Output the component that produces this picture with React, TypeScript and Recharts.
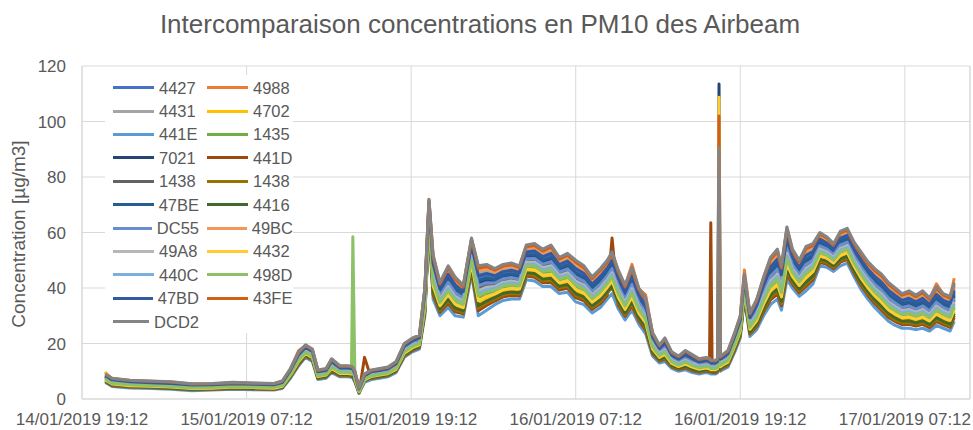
import React from 'react';
import { LineChart, Line, XAxis, YAxis, CartesianGrid, ReferenceLine } from 'recharts';

// hours elapsed since 14/01/2019 19:12
const hours = [1.7, 2.2, 3.5, 5, 6.5, 8, 9.5, 11, 12.5, 14,
  14.6, 15.2, 15.8, 16.3, 16.8, 17.2, 17.8, 18.2, 18.8, 19.4,
  19.65, 19.75, 19.9, 20.2, 20.6, 21.1, 21.7, 22.3, 22.9, 23.5,
  24.1, 24.6, 25.0, 25.3, 25.6, 26.1, 26.7, 27.2, 27.8, 28.4,
  28.9, 29.5, 30.1, 30.7, 31.3, 31.9, 32.4, 33.0, 33.6, 34.2,
  34.8, 35.4, 36.0, 36.6, 37.2, 37.8, 38.3, 38.65, 39.1, 39.6,
  40.1, 40.6, 41.1, 41.6, 42.1, 42.5, 43.0, 43.5, 44.0, 44.5,
  45.0, 45.5, 45.75, 45.85, 45.95, 46.2, 46.35, 46.45, 46.55, 46.7,
  47.1, 47.6, 48.0, 48.3, 48.7, 49.2, 49.7, 50.2, 50.7, 51.0,
  51.4, 51.8, 52.3, 52.8, 53.3, 53.8, 54.3, 54.8, 55.3, 55.8,
  56.3, 56.8, 57.3, 57.8, 58.3, 58.8, 59.3, 59.8, 60.3, 60.8,
  61.3, 61.8, 62.3, 62.8, 63.3, 63.6];

const xTicks = [0, 12, 24, 36, 48, 60];
const xTickLabels = ['14/01/2019 19:12', '15/01/2019 07:12', '15/01/2019 19:12', '16/01/2019 07:12', '16/01/2019 19:12', '17/01/2019 07:12'];
const yTicks = [0, 20, 40, 60, 80, 100, 120];

const s4427 = [8.3, 6.8, 6.1, 5.8, 5.5, 4.9, 5.0, 5.4, 5.2, 5.0,
  5.8, 10.1, 15.8, 18.4, 16.9, 9.6, 10.1, 13.3, 11, 11,
  10.8, 10.5, 9, 3.5, 8.3, 9.6, 10.1, 10.6, 12.5, 18.8,
  20.8, 21.8, 37.5, 69.5, 48, 39, 44.3, 40.5, 38.1, 54.8,
  43.5, 44.4, 43.8, 45.3, 45.8, 45, 52.4, 52.6, 50.6, 51.8,
  47.8, 49, 46.3, 44.5, 40.8, 43.5, 46.5, 49.3, 43, 37.9,
  43.6, 36.8, 33.3, 21.9, 17.9, 19.9, 15.5, 14.1, 15.8, 14.4,
  13.1, 13.6, 13.4, 12.8, 12.8, 12.8, 13.3, 16.5, 14.1, 14.6,
  16, 22.3, 28, 42.8, 28.9, 33.3, 40.5, 46.8, 49.5, 44,
  57.3, 50.5, 46.8, 51, 52.4, 57, 55.8, 53.5, 57.4, 58.4,
  53.4, 49.6, 46.1, 43.5, 41.4, 38.5, 36.6, 34.9, 35.6, 34.4,
  35.6, 33.5, 37, 34.9, 33.9, 38.5];

const s4988 = [9.5, 7.2, 6.5, 6.2, 5.9, 5.2, 5.3, 5.7, 5.5, 5.3,
  6.2, 10.7, 17.5, 19.2, 17.7, 10.2, 10.7, 14.2, 11.7, 11.7,
  11.5, 11.2, 9.7, 3.7, 8.7, 10.2, 10.7, 11.2, 13.2, 19.7,
  21.7, 22.7, 39.7, 71.7, 51.7, 41.7, 47.7, 43.7, 40.7, 57.7,
  47.7, 48.2, 46.7, 48.2, 48.7, 47.7, 55.2, 55.7, 53.7, 55.2,
  50.7, 52.2, 49.7, 47.7, 43.7, 46.7, 49.7, 52.7, 46.2, 40.7,
  48.5, 39.7, 37.5, 23.7, 19.2, 21.7, 16.7, 15.2, 17.2, 15.7,
  14.2, 14.7, 14.4, 13.7, 13.7, 13.7, 14.2, 17.7, 15.1, 15.7,
  17.2, 23.7, 29.7, 46.5, 30.7, 35.7, 43.7, 50.7, 53.7, 47.7,
  61.7, 53.7, 49.7, 54.7, 55.7, 59.7, 58.2, 55.7, 60.2, 61.2,
  56.2, 52.7, 49.2, 46.7, 44.7, 41.7, 39.7, 37.7, 38.7, 37.2,
  38.7, 36.2, 41.5, 37.7, 36.7, 43.5];

const s4431 = [8.6, 7.1, 6.4, 6.1, 5.8, 5.2, 5.2, 5.6, 5.4, 5.2,
  6.1, 10.4, 16.3, 18.9, 17.4, 10, 10.5, 13.8, 11.4, 11.4,
  11.2, 10.9, 9.4, 3.7, 8.6, 10, 10.5, 11, 12.9, 19.3,
  21.3, 22.3, 38.5, 70.5, 49.6, 40.2, 45.8, 41.9, 39.3, 56.1,
  45.3, 46.1, 45.1, 46.6, 47.1, 46.2, 53.6, 54, 52, 53.3,
  49.1, 50.4, 47.8, 45.9, 42.1, 44.9, 47.9, 50.8, 44.4, 39.1,
  45.1, 38.1, 34.6, 22.8, 18.6, 20.8, 16.1, 14.7, 16.5, 15.1,
  13.7, 14.2, 13.9, 13.3, 13.3, 13.3, 13.8, 17.1, 14.6, 15.2,
  16.6, 23, 28.8, 43.7, 29.8, 34.4, 41.9, 48.5, 51.3, 45.6,
  59.2, 51.9, 48.1, 52.6, 53.9, 58.2, 56.9, 54.5, 58.6, 59.6,
  54.6, 51, 47.5, 44.9, 42.9, 39.9, 37.9, 36.2, 37, 35.6,
  37, 34.7, 38.4, 36.2, 35.2, 39.9];

const s4702 = [9.8, 5.3, 4.7, 4.5, 4.2, 3.6, 3.8, 4.1, 3.9, 3.8,
  4.5, 8.4, 13.3, 16.1, 14.6, 7.9, 8.4, 10.8, 9, 9,
  8.8, 8.5, 7, 2.5, 6.8, 7.9, 8.4, 8.9, 10.5, 16.3,
  18.3, 19.3, 32.5, 64.5, 40, 33, 36.8, 33.5, 32.4, 48.3,
  34.5, 36.1, 37.3, 38.8, 39.3, 39, 46.1, 45.9, 43.9, 44.3,
  41.3, 42, 38.8, 37.5, 34.3, 36.5, 39.5, 41.8, 36, 31.6,
  35.9, 30.3, 26.8, 17.6, 14.6, 15.6, 12.5, 11.4, 12.3, 11.1,
  10.4, 10.9, 10.7, 10.3, 10.3, 10.3, 10.8, 13.5, 11.4, 11.9,
  13, 18.8, 24, 38.3, 24.6, 27.8, 33.5, 38.3, 40.5, 36,
  47.8, 43.5, 40.3, 43, 45.1, 51, 50.3, 48.5, 51.1, 52.1,
  47.1, 42.9, 39.4, 36.5, 34.1, 31.5, 29.9, 28.6, 28.9, 28.1,
  28.9, 27.5, 30, 28.6, 27.6, 31.5];

const s441E = [6, 4.5, 4, 3.8, 3.5, 3, 3.2, 3.5, 3.3, 3.2,
  3.8, 7.5, 12, 15, 13.5, 7, 7.5, 9.5, 8, 8,
  7.8, 7.5, 6, 2, 6, 7, 7.5, 8, 9.5, 15,
  17, 18, 30, 62, 36, 30, 33, 30, 29.5, 45,
  30, 32, 34, 35.5, 36, 36, 43, 42.5, 40.5, 40.5,
  38, 38.5, 35, 34, 31, 33, 36, 38, 32.5, 28.5,
  32, 27, 23.5, 15.5, 13, 13.5, 11, 10, 10.5, 9.5,
  9, 9.5, 9.3, 9, 9, 9, 9.5, 12, 10, 10.5,
  11.5, 17, 22, 36, 22.5, 25, 30, 34, 36, 32,
  43, 40, 37, 39, 41.5, 48, 47.5, 46, 48, 49,
  44, 39.5, 36, 33, 30.5, 28, 26.5, 25.5, 25.5, 25,
  25.5, 24.5, 26.5, 25.5, 24.5, 28];

const s1435 = [7.1, 5.6, 5.0, 4.7, 4.4, 3.9, 4.0, 4.4, 4.2, 4.0,
  4.7, 8.7, 13.8, 16.6, 15.1, 8.2, 8.7, 11.3, 9.4, 9.4,
  9.2, 8.9, 7.4, 2.7, 7.1, 8.2, 8.7, 9.2, 10.9, 16.8,
  18.8, 19.8, 33.5, 65.5, 41.6, 34.2, 38.3, 34.9, 33.5, 49.6,
  36.3, 37.8, 38.6, 40.1, 40.6, 40.2, 47.4, 47.2, 45.2, 45.8,
  42.6, 43.4, 40.3, 38.9, 35.6, 37.9, 40.9, 43.3, 37.4, 32.9,
  37.4, 31.6, 28.1, 18.5, 15.3, 16.5, 13.1, 11.9, 13, 11.8,
  10.9, 11.4, 11.2, 10.8, 10.8, 10.8, 11.3, 14.1, 11.9, 12.4,
  13.6, 19.5, 24.8, 39.2, 25.5, 28.9, 34.9, 40, 42.3, 37.6,
  49.7, 44.9, 41.6, 44.6, 46.6, 52.2, 51.4, 49.5, 52.4, 53.4,
  48.4, 44.2, 40.7, 37.9, 35.6, 32.9, 31.2, 29.9, 30.2, 29.4,
  30.2, 28.7, 31.4, 29.9, 28.9, 32.9];

const s7021 = [8.0, 6.5, 5.8, 5.6, 5.3, 4.6, 4.8, 5.1, 4.9, 4.8,
  5.6, 9.8, 15.3, 17.9, 16.4, 9.3, 9.8, 12.8, 10.6, 10.6,
  10.4, 10.1, 8.6, 3.3, 8, 9.3, 9.8, 10.3, 12.1, 18.3,
  20.3, 21.3, 36.5, 68.5, 46.4, 37.8, 42.8, 39.1, 37, 53.5,
  41.7, 42.7, 42.5, 44, 44.5, 43.8, 51.1, 51.3, 49.3, 50.3,
  46.5, 47.6, 44.8, 43.1, 39.5, 42.1, 45.1, 47.8, 41.6, 36.6,
  42.1, 35.5, 32, 21, 17.2, 19, 14.9, 13.6, 15.1, 13.7,
  12.6, 13.1, 12.8, 12.3, 12.3, 12.3, 12.8, 113.5, 13.5, 14.1,
  15.4, 21.6, 27.2, 41.9, 28, 32.2, 39.1, 45.1, 47.7, 42.4,
  55.4, 49.1, 45.5, 49.4, 51, 55.8, 54.7, 52.5, 56.1, 57.1,
  52.1, 48.3, 44.8, 42.1, 39.9, 37.1, 35.3, 33.6, 34.3, 33.1,
  34.3, 32.3, 35.6, 33.6, 32.6, 37.1];

const s441D = [6.3, 4.8, 4.3, 4.1, 3.8, 3.3, 3.4, 3.8, 3.6, 3.4,
  4.1, 7.9, 12.5, 15.5, 14, 7.4, 7.9, 10, 8.4, 8.4,
  8.2, 7.9, 6.4, 2.2, 15, 7.4, 7.9, 8.4, 9.9, 15.5,
  17.5, 18.5, 31, 63, 37.6, 31.2, 34.5, 31.4, 30.7, 46.3,
  31.8, 33.7, 35.3, 36.8, 37.3, 37.2, 44.3, 43.9, 41.9, 42,
  39.3, 39.9, 36.5, 35.4, 32.3, 34.4, 37.4, 58, 33.9, 29.8,
  33.6, 28.3, 24.8, 16.4, 13.7, 14.4, 11.6, 10.6, 11.2, 10.2,
  9.6, 10.1, 9.8, 63.5, 9.5, 9.5, 10, 12.6, 10.5, 11.1,
  12.1, 17.7, 22.8, 36.9, 23.4, 26.1, 31.4, 35.7, 37.8, 33.6,
  44.9, 41.4, 38.3, 40.6, 43, 49.2, 48.6, 47, 49.3, 50.3,
  45.3, 40.9, 37.4, 34.4, 32, 29.4, 27.9, 26.8, 26.9, 26.3,
  26.9, 25.7, 27.9, 26.8, 25.8, 29.4];

const s1438a = [7.7, 6.2, 5.5, 5.3, 5.0, 4.4, 4.5, 4.9, 4.7, 4.5,
  5.3, 9.4, 14.8, 17.5, 16, 8.9, 9.4, 12.3, 10.2, 10.2,
  10, 9.7, 8.2, 3.1, 7.7, 8.9, 9.4, 9.9, 11.7, 17.8,
  19.8, 20.8, 35.5, 67.5, 44.8, 36.6, 41.3, 37.7, 35.8, 52.2,
  39.9, 41.1, 41.2, 42.7, 43.2, 42.6, 49.9, 49.9, 47.9, 48.8,
  45.2, 46.2, 43.3, 41.7, 38.2, 40.7, 43.7, 46.3, 40.2, 35.4,
  40.5, 34.2, 30.7, 20.2, 16.6, 18.2, 14.3, 13, 14.4, 13.1,
  12, 12.5, 12.3, 11.8, 11.8, 11.8, 12.3, 15.3, 13, 13.5,
  14.8, 20.9, 26.4, 41, 27.2, 31.1, 37.7, 43.4, 45.9, 40.8,
  53.5, 47.7, 44.2, 47.8, 49.5, 54.6, 53.6, 51.5, 54.9, 55.9,
  50.9, 46.9, 43.4, 40.7, 38.5, 35.7, 33.9, 32.4, 32.9, 31.9,
  32.9, 31.1, 34.2, 32.4, 31.4, 35.7];

const s1438b = [6.5, 5.0, 4.4, 4.2, 3.9, 3.4, 3.6, 3.9, 3.7, 3.6,
  4.2, 8.0, 12.8, 15.7, 14.2, 7.5, 8.0, 10.3, 8.6, 8.6,
  8.4, 8.1, 6.6, 2.3, 6.5, 7.5, 8.0, 8.5, 10.1, 15.8,
  17.8, 18.8, 31.5, 63.5, 38.4, 31.8, 35.3, 32.1, 31.2, 47,
  32.7, 34.5, 36, 37.5, 38, 37.8, 44.9, 44.5, 42.5, 42.8,
  40, 40.6, 37.3, 36.1, 33, 35.1, 38.1, 40.3, 34.6, 30.4,
  34.3, 29, 25.5, 16.8, 14, 14.8, 11.9, 10.8, 11.6, 10.5,
  9.8, 10.3, 10.1, 9.8, 9.8, 9.8, 10.3, 12.9, 10.8, 11.3,
  12.4, 18.1, 23.2, 37.4, 23.8, 26.7, 32.1, 36.6, 38.7, 34.4,
  45.9, 42.1, 39, 41.4, 43.7, 49.8, 49.2, 47.5, 49.9, 50.9,
  45.9, 41.5, 38, 35.1, 32.7, 30.1, 28.5, 27.4, 27.5, 26.9,
  27.5, 26.3, 28.6, 27.4, 26.4, 30.1];

const s47BE = [8.1, 6.6, 6.0, 5.7, 5.4, 4.8, 4.9, 5.3, 5.1, 4.9,
  5.7, 10, 15.5, 18.2, 16.7, 9.5, 10, 13, 10.8, 10.8,
  10.6, 10.3, 8.8, 3.4, 8.1, 9.5, 10, 10.5, 12.3, 18.5,
  20.5, 21.5, 37, 69, 47.2, 38.4, 43.5, 39.8, 37.6, 54.1,
  42.6, 43.6, 43.1, 44.6, 45.1, 44.4, 51.8, 52, 50, 51,
  47.1, 48.3, 45.5, 43.8, 40.1, 42.8, 45.8, 48.5, 42.3, 37.3,
  42.9, 36.1, 32.6, 21.5, 17.6, 19.5, 15.2, 13.9, 15.4, 14.1,
  12.9, 13.4, 13.1, 12.5, 12.5, 12.5, 13, 16.2, 13.8, 14.4,
  15.7, 21.9, 27.6, 42.3, 28.5, 32.7, 39.8, 45.9, 48.6, 43.2,
  56.3, 49.8, 46.1, 50.2, 51.7, 56.4, 55.2, 53, 56.8, 57.8,
  52.8, 49, 45.5, 42.8, 40.7, 37.8, 35.9, 34.3, 34.9, 33.8,
  34.9, 32.9, 36.3, 34.3, 33.3, 37.8];

const s4416 = [6.6, 5.1, 4.6, 4.3, 4.0, 3.5, 3.7, 4.0, 3.8, 3.7,
  4.3, 8.2, 13, 15.9, 14.4, 7.7, 8.2, 10.5, 8.8, 8.8,
  8.6, 8.3, 6.8, 2.4, 6.6, 7.7, 8.2, 8.7, 10.3, 16,
  18, 19, 32, 64, 39.2, 32.4, 36, 32.8, 31.8, 47.6,
  33.6, 35.3, 36.6, 38.1, 38.6, 38.4, 45.5, 45.2, 43.2, 43.5,
  40.6, 41.3, 38, 36.8, 33.6, 35.8, 38.8, 41, 35.3, 31,
  35.1, 29.6, 26.1, 17.2, 14.3, 15.2, 12.2, 11.1, 11.9, 10.8,
  10.1, 10.6, 10.4, 10, 10, 10, 10.5, 13.2, 11.1, 11.6,
  12.7, 18.4, 23.6, 37.8, 24.2, 27.2, 32.8, 37.4, 39.6, 35.2,
  46.8, 42.8, 39.6, 42.2, 44.4, 50.4, 49.7, 48, 50.5, 51.5,
  46.5, 42.2, 38.7, 35.8, 33.4, 30.8, 29.2, 28, 28.2, 27.5,
  28.2, 26.9, 29.3, 28, 27, 30.8];

const sDC55 = [7.8, 6.3, 5.7, 5.4, 5.1, 4.5, 4.6, 5.0, 4.8, 4.6,
  5.4, 9.6, 15, 17.7, 16.2, 9.1, 9.6, 12.5, 10.4, 10.4,
  10.2, 9.9, 8.4, 3.2, 7.8, 9.1, 9.6, 10.1, 11.9, 18,
  20, 21, 36, 68, 45.6, 37.2, 42, 38.4, 36.4, 52.8,
  40.8, 41.9, 41.8, 43.3, 43.8, 43.2, 50.5, 50.6, 48.6, 49.5,
  45.8, 46.9, 44, 42.4, 38.8, 41.4, 44.4, 47, 40.9, 36,
  41.3, 34.8, 31.3, 20.6, 16.9, 18.6, 14.6, 13.3, 14.7, 13.4,
  12.3, 12.8, 12.5, 12, 12, 12, 12.5, 15.6, 13.2, 13.8,
  15.1, 21.2, 26.8, 41.4, 27.6, 31.6, 38.4, 44.2, 46.8, 41.6,
  54.4, 48.4, 44.8, 48.6, 50.2, 55.2, 54.1, 52, 55.5, 56.5,
  51.5, 47.6, 44.1, 41.4, 39.2, 36.4, 34.6, 33, 33.6, 32.5,
  33.6, 31.7, 34.9, 33, 32, 36.4];

const s49BC = [8.7, 7.2, 6.5, 6.2, 5.9, 5.3, 5.4, 5.8, 5.6, 5.4,
  6.2, 10.6, 16.5, 19.1, 17.6, 10.2, 10.6, 14, 11.6, 11.6,
  11.4, 11.1, 9.6, 3.8, 8.7, 10.2, 10.6, 11.1, 13.1, 19.5,
  21.5, 22.5, 39, 71, 50.4, 40.8, 46.5, 42.6, 39.8, 56.7,
  46.2, 46.9, 45.7, 47.2, 47.7, 46.8, 54.3, 54.6, 52.6, 54,
  49.7, 51.1, 48.5, 46.6, 42.7, 45.6, 48.6, 51.5, 45.1, 39.8,
  45.9, 38.7, 35.2, 23.2, 18.9, 21.2, 16.4, 14.9, 16.8, 15.4,
  13.9, 14.4, 14.2, 13.5, 13.5, 13.5, 14, 17.4, 14.9, 15.4,
  16.9, 23.4, 29.2, 44.1, 30.2, 34.9, 42.6, 49.4, 52.2, 46.4,
  60.2, 52.6, 48.8, 53.4, 54.6, 58.8, 57.4, 55, 59.3, 60.3,
  55.3, 51.6, 48.1, 45.6, 43.6, 40.6, 38.6, 36.8, 37.6, 36.3,
  37.6, 35.3, 39.1, 36.8, 35.8, 40.6];

const s49A8 = [7.5, 6, 5.4, 5.2, 4.9, 4.3, 4.4, 4.8, 4.6, 4.4,
  5.2, 9.3, 14.5, 17.3, 15.8, 8.8, 9.3, 12, 10, 10,
  9.8, 9.5, 8, 3, 7.5, 8.8, 9.3, 9.8, 11.5, 17.5,
  19.5, 20.5, 35, 67, 44, 36, 40.5, 37, 35.3, 51.5,
  39, 40.3, 40.5, 42, 42.5, 42, 49.3, 49.3, 47.3, 48,
  44.5, 45.5, 42.5, 41, 37.5, 40, 43, 45.5, 39.5, 34.8,
  39.8, 33.5, 30, 19.8, 16.3, 17.8, 14, 12.8, 14, 12.8,
  11.8, 12.3, 12, 11.5, 11.5, 11.5, 12, 15, 12.7, 13.3,
  14.5, 20.5, 26, 40.5, 26.8, 30.5, 37, 42.5, 45, 40,
  52.5, 47, 43.5, 47, 48.8, 54, 53, 51, 54.3, 55.3,
  50.3, 46.3, 42.8, 40, 37.8, 35, 33.3, 31.8, 32.3, 31.3,
  32.3, 30.5, 33.5, 31.8, 30.8, 35];

const s4432 = [6.9, 5.4, 4.8, 4.6, 4.3, 3.8, 3.9, 4.3, 4.1, 3.9,
  4.6, 8.6, 13.5, 16.4, 14.9, 8.1, 8.6, 11, 9.2, 9.2,
  9.0, 26, 7.2, 2.6, 6.9, 8.1, 8.6, 9.1, 10.7, 16.5,
  18.5, 19.5, 33, 65, 40.8, 33.6, 37.5, 34.2, 32.9, 48.9,
  35.4, 37, 37.9, 39.4, 39.9, 39.6, 46.8, 46.6, 44.6, 45,
  41.9, 42.7, 39.5, 38.2, 34.9, 37.2, 40.2, 42.5, 36.7, 32.3,
  36.7, 30.9, 27.4, 18.1, 15, 16.1, 12.8, 11.7, 12.6, 11.5,
  10.7, 11.2, 10.9, 10.5, 10.5, 10.5, 11, 108.7, 11.6, 12.2,
  13.3, 19.1, 24.4, 38.7, 25.1, 28.3, 34.2, 39.1, 41.4, 36.8,
  48.7, 44.2, 40.9, 43.8, 45.9, 51.6, 50.8, 49, 51.8, 52.8,
  47.8, 43.6, 40.1, 37.2, 34.9, 32.2, 30.6, 29.3, 29.6, 28.8,
  29.6, 28.1, 30.7, 29.3, 28.3, 32.2];

const s440C = [7.4, 5.9, 5.3, 5.0, 4.7, 4.1, 4.3, 4.6, 4.4, 4.3,
  5.0, 9.1, 14.3, 17.0, 15.5, 8.6, 9.1, 11.8, 9.8, 9.8,
  9.6, 9.3, 7.8, 2.9, 7.4, 8.6, 9.1, 9.6, 11.3, 17.3,
  19.3, 20.3, 34.5, 66.5, 43.2, 35.4, 39.8, 36.3, 34.7, 50.9,
  38.1, 39.4, 39.9, 41.4, 41.9, 41.4, 48.6, 48.6, 46.6, 47.3,
  43.9, 44.8, 41.8, 40.3, 36.9, 39.3, 42.3, 44.8, 38.8, 34.1,
  39, 32.9, 29.4, 19.3, 15.9, 17.3, 13.7, 12.5, 13.7, 12.4,
  11.5, 12, 11.7, 11.3, 11.3, 11.3, 11.8, 14.7, 12.4, 13,
  14.2, 20.2, 25.6, 40.1, 26.3, 30, 36.3, 41.7, 44.1, 39.2,
  51.6, 46.3, 42.9, 46.2, 48, 53.4, 52.5, 50.5, 53.6, 54.6,
  49.6, 45.6, 42.1, 39.3, 37, 34.3, 32.6, 31.1, 31.6, 30.6,
  31.6, 29.9, 32.8, 31.1, 30.1, 34.3];

const s498D = [7.2, 5.7, 5.1, 4.9, 4.6, 4.0, 4.2, 4.5, 4.3, 4.2,
  4.9, 8.9, 14, 16.8, 15.3, 8.4, 8.9, 11.5, 9.6, 9.6,
  9.4, 58.5, 7.6, 2.8, 7.2, 8.4, 8.9, 9.4, 11.1, 17,
  19, 20, 34, 66, 42.4, 34.8, 39, 35.6, 34.1, 50.2,
  37.2, 38.6, 39.2, 40.7, 41.2, 40.8, 48, 47.9, 45.9, 46.5,
  43.2, 44.1, 41, 39.6, 36.2, 38.6, 41.6, 44, 38.1, 33.5,
  38.2, 32.2, 28.7, 18.9, 15.6, 16.9, 13.4, 12.2, 13.3, 12.1,
  11.2, 11.7, 11.5, 11, 11, 11, 11.5, 14.4, 12.2, 12.7,
  13.9, 19.8, 25.2, 39.6, 25.9, 29.4, 35.6, 40.8, 43.2, 38.4,
  50.6, 45.6, 42.2, 45.4, 47.3, 52.8, 51.9, 50, 53, 54,
  49, 44.9, 41.4, 38.6, 36.3, 33.6, 31.9, 30.5, 30.9, 30,
  30.9, 29.3, 32.1, 30.5, 29.5, 33.6];

const s47BD = [8.4, 6.9, 6.2, 5.9, 5.6, 5.0, 5.1, 5.5, 5.3, 5.1,
  5.9, 10.3, 16, 18.6, 17.1, 9.8, 10.3, 13.5, 11.2, 11.2,
  11, 10.7, 9.2, 3.6, 8.4, 9.8, 10.3, 10.8, 12.7, 19,
  21, 22, 38, 70, 48.8, 39.6, 45, 41.2, 38.7, 55.4,
  44.4, 45.2, 44.4, 45.9, 46.4, 45.6, 53, 53.3, 51.3, 52.5,
  48.4, 49.7, 47, 45.2, 41.4, 44.2, 47.2, 50, 43.7, 38.5,
  44.4, 37.4, 33.9, 22.3, 18.2, 20.3, 15.8, 14.4, 16.1, 14.7,
  13.4, 13.9, 13.6, 13, 13, 13, 13.5, 16.8, 14.3, 14.9,
  16.3, 22.6, 28.4, 43.2, 29.3, 33.8, 41.2, 47.6, 50.4, 44.8,
  58.2, 51.2, 47.4, 51.8, 53.1, 57.6, 56.3, 54, 58, 59,
  54, 50.3, 46.8, 44.2, 42.1, 39.2, 37.3, 35.5, 36.3, 35,
  36.3, 34.1, 37.7, 35.5, 34.5, 39.2];

const s43FE = [8.9, 7.4, 6.7, 6.4, 6.1, 5.4, 5.5, 5.9, 5.7, 5.5,
  6.4, 10.8, 16.8, 19.3, 17.8, 10.3, 10.8, 14.3, 11.8, 11.8,
  11.6, 11.3, 9.8, 3.9, 8.9, 10.3, 10.8, 11.3, 13.3, 19.8,
  21.8, 22.8, 39.5, 71.5, 51.2, 41.4, 47.3, 43.3, 40.4, 57.4,
  47.1, 47.7, 46.4, 47.9, 48.4, 47.4, 54.9, 55.3, 53.3, 54.8,
  50.4, 51.8, 49.3, 47.3, 43.4, 46.3, 49.3, 52.3, 45.8, 40.4,
  46.7, 39.4, 35.9, 23.6, 19.2, 21.6, 16.7, 15.2, 17.2, 15.7,
  14.2, 14.7, 14.4, 13.8, 13.8, 13.8, 14.3, 102, 15.1, 15.7,
  17.2, 23.7, 29.6, 44.6, 30.6, 35.5, 43.3, 50.2, 53.1, 47.2,
  61.1, 53.3, 49.4, 54.2, 55.3, 59.4, 58, 55.5, 59.9, 60.9,
  55.9, 52.3, 48.8, 46.3, 44.3, 41.3, 39.3, 37.4, 38.3, 36.9,
  38.3, 35.9, 39.8, 37.4, 36.4, 41.3];

const sDCD2 = [9, 7.5, 6.8, 6.5, 6.2, 5.5, 5.6, 6, 5.8, 5.6,
  6.5, 11, 17, 19.5, 18, 10.5, 11, 14.5, 12, 12,
  11.8, 11.5, 10, 4, 9, 10.5, 11, 11.5, 13.5, 20,
  22, 23, 40, 72, 52, 42, 48, 44, 41, 58,
  48, 48.5, 47, 48.5, 49, 48, 55.5, 56, 54, 55.5,
  51, 52.5, 50, 48, 44, 47, 50, 53, 46.5, 41,
  47.5, 40, 36.5, 24, 19.5, 22, 17, 15.5, 17.5, 16,
  14.5, 15, 14.7, 14, 14, 14, 14.5, 90.6, 15.4, 16,
  17.5, 24, 30, 45, 31, 36, 44, 51, 54, 48,
  62, 54, 50, 55, 56, 60, 58.5, 56, 60.5, 61.5,
  56.5, 53, 49.5, 47, 45, 42, 40, 38, 39, 37.5,
  39, 36.5, 40.5, 38, 37, 42];

// Excel draw order (later series are drawn on top)
const series = [
  { key: 's4427', name: '4427', color: '#4472C4', data: s4427 },
  { key: 's4988', name: '4988', color: '#ED7D31', data: s4988 },
  { key: 's4431', name: '4431', color: '#A5A5A5', data: s4431 },
  { key: 's4702', name: '4702', color: '#FFC000', data: s4702 },
  { key: 's441E', name: '441E', color: '#5B9BD5', data: s441E },
  { key: 's1435', name: '1435', color: '#70AD47', data: s1435 },
  { key: 's7021', name: '7021', color: '#264478', data: s7021 },
  { key: 's441D', name: '441D', color: '#9E480E', data: s441D },
  { key: 's1438a', name: '1438', color: '#636363', data: s1438a },
  { key: 's1438b', name: '1438', color: '#997300', data: s1438b },
  { key: 's47BE', name: '47BE', color: '#255E91', data: s47BE },
  { key: 's4416', name: '4416', color: '#43682B', data: s4416 },
  { key: 'sDC55', name: 'DC55', color: '#698ED0', data: sDC55 },
  { key: 's49BC', name: '49BC', color: '#F1975A', data: s49BC },
  { key: 's49A8', name: '49A8', color: '#B7B7B7', data: s49A8 },
  { key: 's4432', name: '4432', color: '#FFCD33', data: s4432 },
  { key: 's440C', name: '440C', color: '#7CAFDD', data: s440C },
  { key: 's498D', name: '498D', color: '#8CC168', data: s498D },
  { key: 's47BD', name: '47BD', color: '#335AA1', data: s47BD },
  { key: 's43FE', name: '43FE', color: '#D26012', data: s43FE },
  { key: 'sDCD2', name: 'DCD2', color: '#848484', data: sDCD2 },
];

const rows = hours.map((h, i) => {
  const r: Record<string, number> = { h };
  series.forEach((s) => { r[s.key] = s.data[i]; });
  return r;
});

const FONT = '"Liberation Sans", Arial, sans-serif';
const TXT = '#595959';

export default function App() {
  return (
    <div style={{ position: 'absolute', left: 0, top: 0, width: 973, height: 430, background: '#fff', fontFamily: FONT }}>
      <div style={{ position: 'absolute', left: 0, top: 9, width: 960, textAlign: 'center', fontSize: 26, lineHeight: '30px', color: TXT }}>
        Intercomparaison concentrations en PM10 des Airbeam
      </div>
      <div style={{ position: 'absolute', left: 19, top: 234, width: 0, height: 0 }}>
        <div style={{ position: 'absolute', left: -150, top: -12, width: 300, textAlign: 'center', fontSize: 19, lineHeight: '24px', color: TXT, transform: 'rotate(-90deg)', whiteSpace: 'nowrap' }}>
          Concentration [µg/m3]
        </div>
      </div>
      <LineChart width={973} height={430} data={rows} margin={{ top: 66, right: 3, bottom: 0, left: 0 }}>
        <CartesianGrid stroke="#D9D9D9" strokeWidth={1} />
        <XAxis
          dataKey="h"
          type="number"
          domain={[0, 64.75]}
          ticks={xTicks}
          interval={0}
          allowDataOverflow
          height={31}
          tickSize={0}
          tickMargin={14}
          axisLine={{ stroke: '#D9D9D9' }}
          tickLine={false}
          tick={{ fill: TXT, fontSize: 17, fontFamily: FONT }}
          tickFormatter={(v: number) => xTickLabels[xTicks.indexOf(v)] ?? ''}
        />
        <YAxis
          type="number"
          domain={[0, 120]}
          ticks={yTicks}
          interval={0}
          width={82}
          tickSize={0}
          tickMargin={16}
          axisLine={{ stroke: '#D9D9D9' }}
          tickLine={false}
          tick={{ fill: TXT, fontSize: 17, fontFamily: FONT }}
        />
        <ReferenceLine x={64.75} stroke="#D9D9D9" ifOverflow="visible" />
        {series.map((s) => (
          <Line
            key={s.key}
            dataKey={s.key}
            name={s.name}
            type="linear"
            stroke={s.color}
            strokeWidth={3}
            dot={false}
            activeDot={false}
            isAnimationActive={false}
            strokeLinejoin="round"
          />
        ))}
      </LineChart>
      <div style={{ position: 'absolute', left: 105, top: 75, width: 188, height: 258, background: '#fff', paddingTop: 1, boxSizing: 'border-box', display: 'grid', gridTemplateColumns: '94px 94px', gridAutoRows: '23.4px' }}>
        {series.map((s) => (
          <div key={s.key} style={{ display: 'flex', alignItems: 'center' }}>
            <span style={{ display: 'inline-block', marginLeft: 8, width: 41, height: 3, background: s.color }} />
            <span style={{ marginLeft: 5, fontSize: 16.5, color: TXT, lineHeight: '20px' }}>{s.name}</span>
          </div>
        ))}
      </div>
    </div>
  );
}
